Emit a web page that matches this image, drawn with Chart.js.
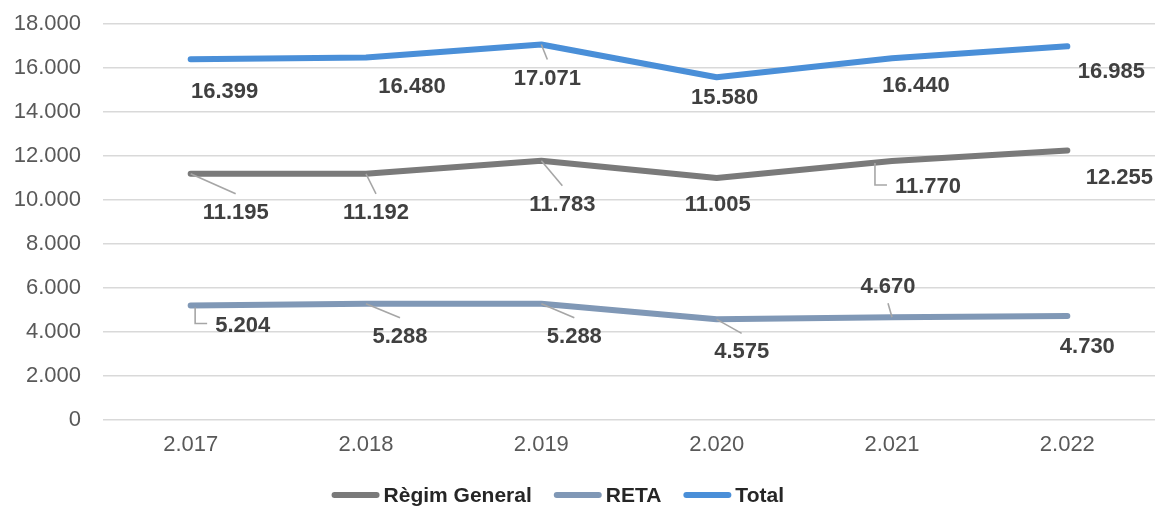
<!DOCTYPE html>
<html>
<head>
<meta charset="utf-8">
<script src="https://cdn.jsdelivr.net/npm/chart.js@4.4.1/dist/chart.umd.min.js"></script>
<style>
  html, body { margin: 0; padding: 0; background: #fff; }
  #wrap { width: 1162px; height: 507px; position: relative; }
</style>
</head>
<body>
<div id="wrap"><canvas id="chart"></canvas></div>
<script>
// ---- Data -----------------------------------------------------------------
const years = ["2.017", "2.018", "2.019", "2.020", "2.021", "2.022"];
const regimGeneral = [11195, 11192, 11783, 11005, 11770, 12255];
const reta = [5204, 5288, 5288, 4575, 4670, 4730];
const total = [16399, 16480, 17071, 15580, 16440, 16985];
const yTicks = [0, 2000, 4000, 6000, 8000, 10000, 12000, 14000, 16000, 18000];

// label placement (offset from point, leader style) – pure styling
const labelPos = {
  regim: [[45, 39, "line"], [10, 39, "line"], [21, 44, "line"], [1, 27, null], [36, 26, "elbow"], [52, 28, null]],
  reta: [[52, 20, "elbow"], [34, 33, "line"], [33, 33, "line"], [25, 33, "line"], [-4, -30, "line"], [20, 31, null]],
  total: [[34, 33, null], [46, 29, null], [6, 34, "line"], [8, 21, null], [24, 28, null], [44, 26, null]],
};

const fmt = (v) => Number(v).toLocaleString("de-DE");
const FONT = "'Liberation Sans', Arial, sans-serif";

// ---- Data labels with leader lines ------------------------------------------
const dataLabels = {
  id: "dataLabels",
  afterDatasetsDraw(chart) {
    const ctx = chart.ctx;
    ctx.save();
    ctx.font = "bold 22px " + FONT;
    ctx.textAlign = "center";
    ctx.textBaseline = "middle";
    chart.data.datasets.forEach((ds, i) => {
      const meta = chart.getDatasetMeta(i);
      const pos = labelPos[ds.key];
      meta.data.forEach((pt, j) => {
        const [dx, dy, leader] = pos[j];
        const txt = fmt(ds.data[j]);
        const cx = pt.x + dx, cy = pt.y + dy;
        const w = ctx.measureText(txt).width;
        ctx.strokeStyle = "#a6a6a6";
        ctx.lineWidth = 1.6;
        if (leader === "line") {
          const ey = dy > 0 ? cy - 19 : cy + 16;
          ctx.beginPath();
          ctx.moveTo(pt.x, pt.y);
          ctx.lineTo(cx, ey);
          ctx.stroke();
        } else if (leader === "elbow") {
          const ex = cx - w / 2 - 20;
          ctx.beginPath();
          ctx.moveTo(ex, pt.y + 2);
          ctx.lineTo(ex, cy - 2);
          ctx.lineTo(cx - w / 2 - 8, cy - 2);
          ctx.stroke();
        }
        ctx.fillStyle = "#404040";
        ctx.fillText(txt, cx, cy);
      });
    });
    ctx.restore();
  },
};

// ---- Legend (line swatch + tight text, like the original) -------------------
const lineLegend = {
  id: "lineLegend",
  afterDraw(chart) {
    const ctx = chart.ctx;
    const sw = 48, gapText = 4, gapItem = 22;
    ctx.save();
    ctx.font = "bold 21px " + FONT;
    const items = chart.data.datasets.map((ds) => ({
      text: ds.label, color: ds.borderColor, w: ctx.measureText(ds.label).width,
    }));
    const totalW = items.reduce((s, it) => s + sw + gapText + it.w, 0) + gapItem * (items.length - 1);
    let x = chart.width * 0.48 - totalW / 2;
    const y = chart.height - 12;
    ctx.textBaseline = "middle";
    ctx.textAlign = "left";
    items.forEach((it) => {
      ctx.strokeStyle = it.color;
      ctx.lineWidth = 6;
      ctx.lineCap = "round";
      ctx.beginPath();
      ctx.moveTo(x + 3, y);
      ctx.lineTo(x + sw - 3, y);
      ctx.stroke();
      ctx.fillStyle = "#262626";
      ctx.fillText(it.text, x + sw + gapText, y + 1);
      x += sw + gapText + it.w + gapItem;
    });
    ctx.restore();
  },
};

const mk = (label, key, data, color) => ({
  label, key, data,
  borderColor: color,
  backgroundColor: color,
  borderWidth: 6,
  borderCapStyle: "round",
  borderJoinStyle: "round",
  pointRadius: 0,
  tension: 0,
});

new Chart(document.getElementById("chart"), {
  type: "line",
  data: {
    labels: years,
    datasets: [
      mk("Règim General", "regim", regimGeneral, "#7a7a7a"),
      mk("RETA", "reta", reta, "#8098b6"),
      mk("Total", "total", total, "#4a8fd8"),
    ],
  },
  options: {
    responsive: true,
    maintainAspectRatio: false,
    animation: false,
    layout: { padding: { top: 24, right: 7, left: 0, bottom: 47 } },
    plugins: {
      tooltip: { enabled: false },
      legend: { display: false },
    },
    scales: {
      x: {
        offset: true,
        grid: { display: false, drawTicks: false },
        border: { display: false },
        ticks: { color: "#595959", padding: 12, font: { family: FONT, size: 22 } },
        afterFit(s) { s.height = 40; },
      },
      y: {
        min: 0,
        max: 18000,
        afterBuildTicks(s) { s.ticks = yTicks.map((v) => ({ value: v })); },
        grid: { color: "#d9d9d9", lineWidth: 1.5, drawTicks: true, tickLength: 22, tickColor: "rgba(0,0,0,0)" },
        border: { display: false },
        ticks: {
          color: "#595959",
          padding: 0,
          font: { family: FONT, size: 22 },
          callback: (v) => fmt(v),
        },
        afterFit(s) { s.width = 103; },
      },
    },
  },
  plugins: [dataLabels, lineLegend],
});
</script>
</body>
</html>
